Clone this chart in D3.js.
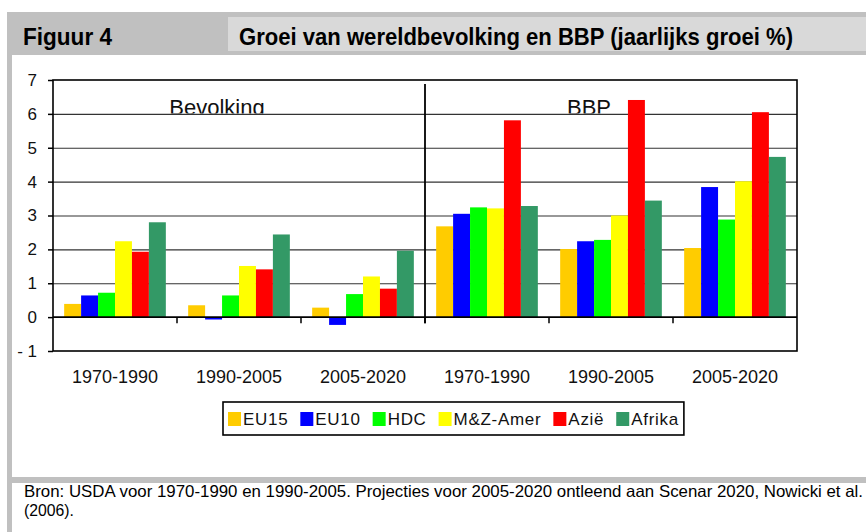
<!DOCTYPE html>
<html>
<head>
<meta charset="utf-8">
<script src="https://cdn.jsdelivr.net/npm/d3@7"></script>
<style>
    html, body { margin: 0; padding: 0; background: #ffffff; }
    svg { display: block; }
</style>
</head>
<body>
<div id="chart"></div>
<script>
// Data: annual growth (%) of world population and GDP
const periods = ["1970-1990", "1990-2005", "2005-2020", "1970-1990", "1990-2005", "2005-2020"];
const seriesNames = ["EU15", "EU10", "HDC", "M&Z-Amer", "Azië", "Afrika"];
const seriesColors = ["#ffcc00", "#0000ff", "#00ff00", "#ffff00", "#ff0000", "#339966"];

const eu15 = [0.39, 0.35, 0.28, 2.68, 2.01, 2.04];
const eu10 = [0.64, -0.07, -0.23, 3.05, 2.24, 3.84];
const hdc = [0.72, 0.64, 0.68, 3.24, 2.28, 2.88];
const mzAmer = [2.24, 1.51, 1.20, 3.21, 3.00, 4.01];
const azie = [1.93, 1.41, 0.84, 5.81, 6.41, 6.05];
const afrika = [2.80, 2.44, 1.96, 3.28, 3.44, 4.73];

const yTicks = [-1, 0, 1, 2, 3, 4, 5, 6, 7];
const panelLabels = ["Bevolking", "BBP"];

const figureLabel = "Figuur 4";
const titleText = "Groei van wereldbevolking en BBP (jaarlijks groei %)";
const sourceLines = [
    "Bron: USDA voor 1970-1990 en 1990-2005. Projecties voor 2005-2020 ontleend aan Scenar 2020, Nowicki et al.",
    "(2006)."
];

const seriesValues = [eu15, eu10, hdc, mzAmer, azie, afrika];

function drawChart() {
    const W = 866, H = 532;
    const font = "'Liberation Sans', Arial, sans-serif";
    const narrow = "'Liberation Sans Narrow', 'Liberation Sans', Arial, sans-serif";

    const svg = d3.select("#chart").append("svg")
        .attr("width", W)
        .attr("height", H);

    // Frame: header band, left strip, footer separator
    svg.append("rect").attr("x", 7).attr("y", 12).attr("width", W - 7).attr("height", 43).attr("fill", "#c0c0c0");
    svg.append("rect").attr("x", 228).attr("y", 17).attr("width", W - 228).attr("height", 34).attr("fill", "#d9d9d9");
    svg.append("rect").attr("x", 7).attr("y", 55).attr("width", 5).attr("height", H - 55).attr("fill", "#c0c0c0");
    svg.append("rect").attr("x", 7).attr("y", 477).attr("width", W - 7).attr("height", 6).attr("fill", "#c0c0c0");

    svg.append("text")
        .attr("x", 23).attr("y", 45)
        .attr("textLength", 89).attr("lengthAdjust", "spacingAndGlyphs")
        .style("font-family", narrow).style("font-weight", "bold").style("font-size", "24px")
        .text(figureLabel);

    svg.append("text")
        .attr("x", 239).attr("y", 45)
        .attr("textLength", 554).attr("lengthAdjust", "spacingAndGlyphs")
        .style("font-family", narrow).style("font-weight", "bold").style("font-size", "24px")
        .text(titleText);

    // Source note
    const sourceWidths = [839, 50];
    svg.selectAll(".source")
        .data(sourceLines)
        .enter().append("text")
        .attr("class", "source")
        .attr("x", 24)
        .attr("y", (d, i) => 497 + i * 19)
        .attr("textLength", (d, i) => sourceWidths[i])
        .attr("lengthAdjust", "spacingAndGlyphs")
        .style("font-family", narrow).style("font-size", "16.5px").style("fill", "#000")
        .text(d => d);

    // Plot area
    const plot = { left: 53, right: 797, top: 80, bottom: 351 };

    const y = d3.scaleLinear().domain([-1, 7]).range([plot.bottom, plot.top]);

    const x0 = d3.scaleBand()
        .domain(d3.range(periods.length))
        .range([plot.left, plot.right])
        .paddingInner(0.18)
        .paddingOuter(0.09);

    const x1 = d3.scaleBand()
        .domain(d3.range(seriesNames.length))
        .range([0, x0.bandwidth()]);

    const boundary = i => x0(i) - x0.paddingInner() * x0.step() / 2;

    // Panel labels, clipped at the 6% gridline
    svg.append("clipPath").attr("id", "label-clip")
        .append("rect")
        .attr("x", plot.left).attr("y", plot.top)
        .attr("width", plot.right - plot.left).attr("height", y(6) - plot.top - 0.5);

    svg.append("g").attr("clip-path", "url(#label-clip)")
        .selectAll("text")
        .data(panelLabels)
        .enter().append("text")
        .attr("x", (d, i) => x0(1 + i * 3) + x0.bandwidth() / 2 - 22)
        .attr("y", y(6) + 1)
        .attr("text-anchor", "middle")
        .style("font-family", font).style("font-size", "22px").style("fill", "#111")
        .text(d => d);

    // Gridlines
    svg.append("g")
        .attr("class", "grid")
        .attr("transform", `translate(${plot.left},0)`)
        .call(d3.axisLeft(y)
            .tickValues(yTicks.filter(v => v > 0 && v < 7))
            .tickSize(-(plot.right - plot.left))
            .tickFormat(""))
        .call(g => g.select(".domain").remove())
        .selectAll("line")
        .attr("stroke", "#333")
        .attr("stroke-width", 1.2);

    // Bars
    const groups = svg.append("g")
        .selectAll("g")
        .data(periods)
        .enter().append("g")
        .attr("transform", (d, i) => `translate(${x0(i)},0)`);

    groups.selectAll("rect")
        .data((d, i) => seriesValues.map((vals, s) => ({ s, v: vals[i] })))
        .enter().append("rect")
        .attr("x", d => x1(d.s))
        .attr("y", d => y(Math.max(0, d.v)))
        .attr("width", x1.bandwidth())
        .attr("height", d => Math.abs(y(d.v) - y(0)))
        .attr("fill", d => seriesColors[d.s]);

    // Plot border
    svg.append("rect")
        .attr("x", plot.left).attr("y", plot.top)
        .attr("width", plot.right - plot.left).attr("height", plot.bottom - plot.top)
        .attr("fill", "none").attr("stroke", "#000").attr("stroke-width", 1.6);

    // Zero line with category ticks
    svg.append("line")
        .attr("x1", plot.left).attr("x2", plot.right)
        .attr("y1", y(0)).attr("y2", y(0))
        .attr("stroke", "#000").attr("stroke-width", 1.6);

    svg.selectAll(".cat-tick")
        .data(d3.range(1, periods.length))
        .enter().append("line")
        .attr("class", "cat-tick")
        .attr("x1", boundary).attr("x2", boundary)
        .attr("y1", y(0)).attr("y2", y(0) + 6)
        .attr("stroke", "#000").attr("stroke-width", 1.5);

    // Divider between population and GDP
    svg.append("line")
        .attr("x1", boundary(3)).attr("x2", boundary(3))
        .attr("y1", y(6.88)).attr("y2", y(0) + 6)
        .attr("stroke", "#000").attr("stroke-width", 1.8);

    // Y axis
    svg.append("g")
        .attr("transform", `translate(${plot.left},0)`)
        .call(d3.axisLeft(y)
            .tickValues(yTicks)
            .tickSize(5)
            .tickPadding(11)
            .tickFormat(d => d < 0 ? "- " + Math.abs(d) : d))
        .call(g => g.select(".domain").remove())
        .call(g => g.selectAll("line").attr("stroke", "#000").attr("stroke-width", 1.5))
        .selectAll("text")
        .style("font-family", font).style("font-size", "17px").style("fill", "#111");

    // Category labels
    svg.selectAll(".cat-label")
        .data(periods)
        .enter().append("text")
        .attr("class", "cat-label")
        .attr("x", (d, i) => x0(i) + x0.bandwidth() / 2)
        .attr("y", 383)
        .attr("text-anchor", "middle")
        .style("font-family", font).style("font-size", "18px").style("fill", "#111")
        .text(d => d);

    // Legend
    const legend = svg.append("g");
    const box = legend.append("rect")
        .attr("y", 402).attr("height", 33)
        .attr("fill", "#fff").attr("stroke", "#000").attr("stroke-width", 1.6);

    let lx = 228;
    seriesNames.forEach((name, i) => {
        legend.append("rect")
            .attr("x", lx).attr("y", 412)
            .attr("width", 13).attr("height", 14)
            .attr("fill", seriesColors[i]);
        const t = legend.append("text")
            .attr("x", lx + 15).attr("y", 425)
            .style("font-family", font).style("font-size", "17px").style("fill", "#111")
            .style("letter-spacing", "0.7px")
            .text(name);
        lx += 15 + t.node().getComputedTextLength() + 12;
    });
    box.attr("x", 223).attr("width", lx - 12 + 5 - 223);
}

drawChart();
</script>
</body>
</html>
